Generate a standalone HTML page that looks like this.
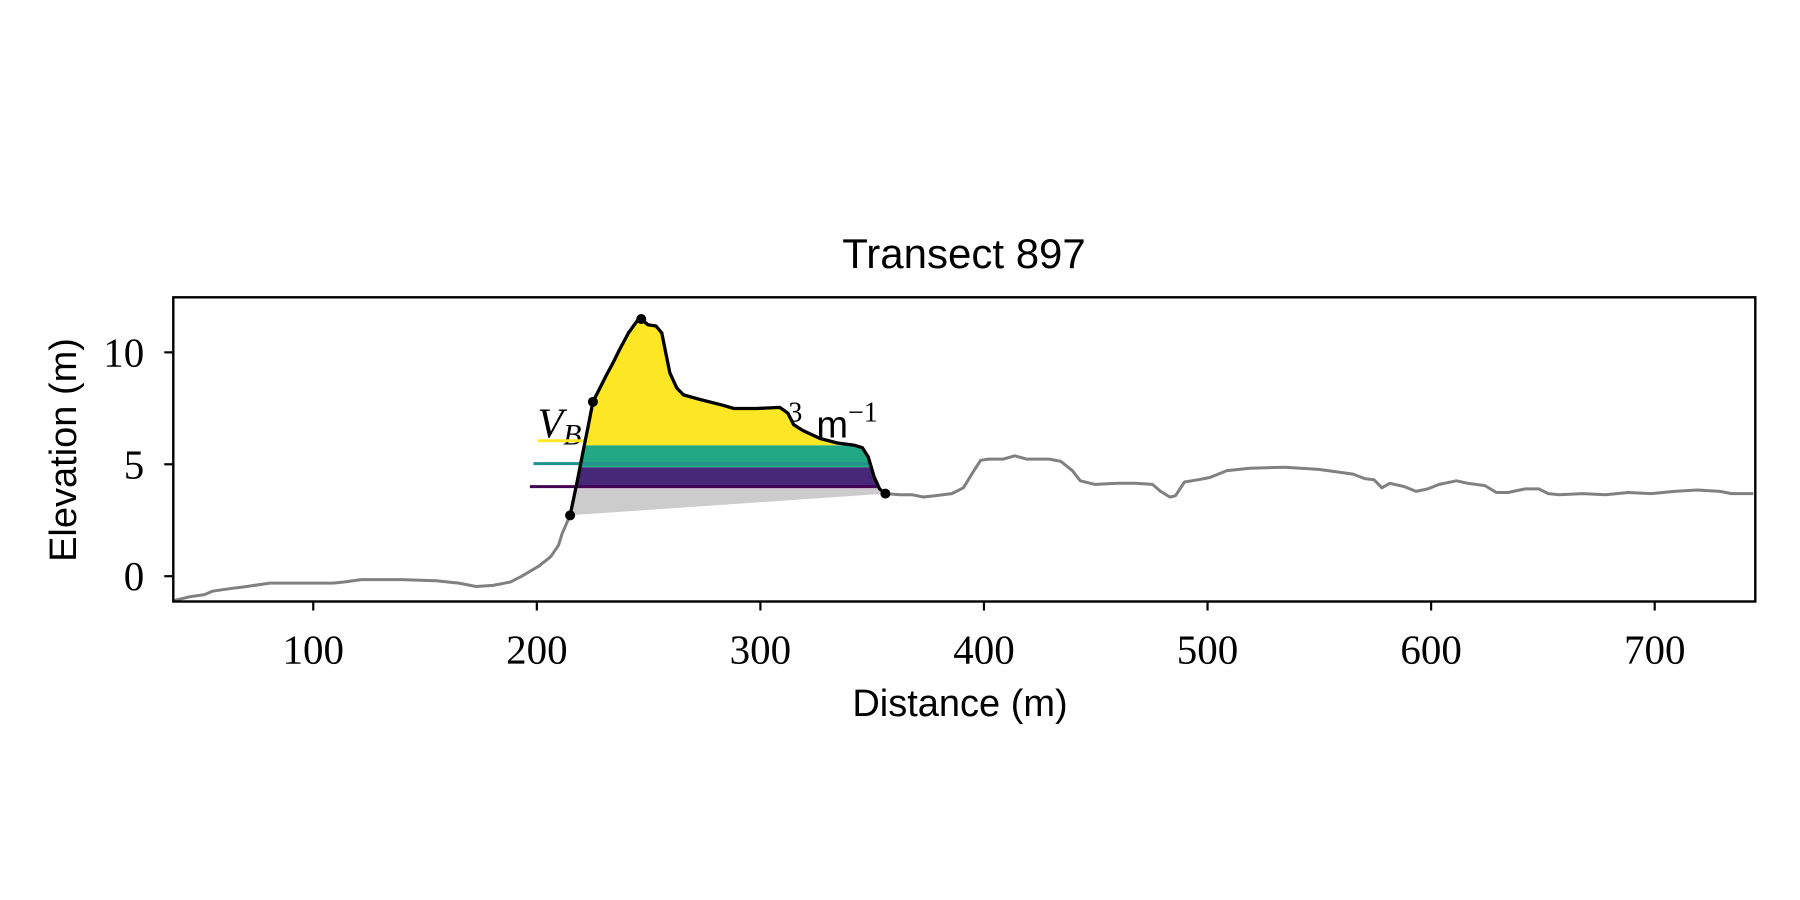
<!DOCTYPE html>
<html><head><meta charset="utf-8"><style>
html,body{margin:0;padding:0;background:#fff;}
svg{display:block;}
</style></head><body>
<svg id="chart" width="1800" height="900" viewBox="0 0 1800 900" xmlns="http://www.w3.org/2000/svg">
<text x="964" y="268" text-anchor="middle" font-family="Liberation Sans, sans-serif" font-size="42">Transect 897</text>
<text x="960" y="716" text-anchor="middle" font-family="Liberation Sans, sans-serif" font-size="38">Distance (m)</text>
<text transform="translate(76,450) rotate(-90)" text-anchor="middle" font-family="Liberation Sans, sans-serif" font-size="38">Elevation (m)</text>
<g id="plot"></g>
</svg>
<script>
const xTicks=[100,200,300,400,500,600,700];
const yTicks=[0,5,10];
const bgDist=[38,44.6,51.3,54.9,62.6,70.3,80.5,93.3,108.7,113.8,121.5,139.5,154.9,165.1,172.8,180.5,188.2,193.3,201,206.2,209.7,211.3,214.9];
const bgElev=[-1.08,-0.92,-0.82,-0.67,-0.56,-0.46,-0.31,-0.31,-0.31,-0.26,-0.15,-0.15,-0.2,-0.31,-0.46,-0.41,-0.26,0,0.46,0.87,1.38,1.9,2.72];
const duneDist=[214.9,218,220.5,223.1,225.1,227.7,230.8,234.4,236.9,241,245.1,246.7,249.7,253.3,255.9,257.4,259.5,262.6,265.6,272.8,283.1,288.2,298.5,308.7,312.3,314.9,319,326.7,334.4,342.1,345.6,348.2,350.8,353.3,355.9];
const duneElev=[2.72,4.21,5.49,6.77,7.79,8.31,8.92,9.59,10.1,10.87,11.44,11.49,11.23,11.18,10.87,10.1,9.08,8.41,8.1,7.9,7.64,7.49,7.49,7.54,7.28,6.77,6.51,6.15,5.95,5.85,5.74,5.33,4.46,3.9,3.69];
const backDist=[355.9,362.6,367.7,372.8,378,385.6,390.8,394.9,398.5,402.1,408.7,413.8,419,429.2,434.4,439.5,443.1,449.7,460,467.7,475.4,479,483.1,485.6,489.7,495.9,501,508.7,519,534.4,549.7,565.1,570.3,574.4,578,581.5,588.2,593.3,598.5,603.6,611.3,616.4,624.1,629.2,634.4,642.1,648.2,652.3,657.4,667.7,677.9,688.2,698.5,708.7,719,729.2,734.4,744.1];
const backElev=[3.69,3.64,3.64,3.54,3.59,3.69,3.95,4.62,5.18,5.23,5.23,5.38,5.23,5.23,5.13,4.72,4.26,4.1,4.15,4.15,4.1,3.79,3.54,3.59,4.21,4.31,4.41,4.72,4.82,4.87,4.77,4.56,4.36,4.31,3.95,4.15,4,3.79,3.9,4.1,4.26,4.15,4.05,3.74,3.74,3.9,3.9,3.69,3.64,3.69,3.64,3.74,3.69,3.79,3.85,3.79,3.69,3.69];
const levels=[4.0,4.87,5.85];
const levelLegend=[4.0,5.03,6.05];
const legendStart=[196.9,198.5,200.5];
const markerDist=[214.9,225.1,246.7,355.9];
const markerElev=[2.72,7.79,11.49,3.69];
const xMin=37.4,xMax=745,yMin=-1.13,yMax=12.46;
const L=173.3,R=1755.3,T=297.3,B=601.5;
const sx=v=>L+(v-xMin)/(xMax-xMin)*(R-L);
const sy=v=>B-(v-yMin)/(yMax-yMin)*(B-T);
const NS='http://www.w3.org/2000/svg';
const g=document.getElementById('plot');
function mk(tag,attrs,parent){const e=document.createElementNS(NS,tag);for(const k in attrs)e.setAttribute(k,attrs[k]);(parent||g).appendChild(e);return e;}
function pts(xs,ys){return xs.map((x,i)=>sx(x).toFixed(1)+','+sy(ys[i]).toFixed(1)).join(' ');}
const defs=mk('defs',{});
const cp=mk('clipPath',{id:'axclip'},defs);
mk('rect',{x:L,y:T,width:R-L,height:B-T},cp);
const cp2=mk('clipPath',{id:'duneclip'},defs);
mk('polygon',{points:pts(duneDist,duneElev)},cp2);
const pg=mk('g',{'clip-path':'url(#axclip)'});
const t1=mk('text',{x:sx(200.3),y:sy(6.2),'font-family':'Liberation Serif, serif','font-style':'italic','font-size':'42'},pg);


t1.textContent='V';
const t1b=mk('tspan',{'font-size':'30',dy:'7'},t1);t1b.textContent='B';
const t2=mk('text',{x:sx(312.5),y:sy(6.2),'font-family':'Liberation Sans, sans-serif','font-size':'38'},pg);


const s1=mk('tspan',{'font-family':'Liberation Serif, serif','font-size':'28',dy:'-16'},t2);s1.textContent='3';
const s2=mk('tspan',{dy:'16',dx:'14'},t2);s2.textContent='m';
const s3=mk('tspan',{'font-family':'Liberation Serif, serif','font-size':'28',dy:'-16'},t2);s3.textContent='−1';
const cols=['#440154','#21918c','#fde725'];
const bandCols=['#472777','#22a884','#fde725'];
levelLegend.forEach((lv,i)=>{
 const ln=mk('line',{x1:sx(legendStart[i]),x2:sx(226),y1:sy(lv),y2:sy(lv),stroke:cols[i],'stroke-width':3},pg);
 
 
});
const bg=mk('g',{'clip-path':'url(#duneclip)'},pg);
const gr=mk('rect',{x:sx(200),y:sy(levels[0]),width:sx(360)-sx(200),height:sy(-2)-sy(levels[0]),fill:'#cccccc'},bg);


const tops=[levels[1],levels[2],13];
levels.forEach((lv,i)=>{
 const r=mk('rect',{x:sx(200),y:sy(tops[i]),width:sx(360)-sx(200),height:sy(lv)-sy(tops[i]),fill:bandCols[i]},bg);
 
 
});
levelLegend.slice(0,2).forEach((lv,i)=>{
 const ln=mk('line',{x1:sx(200),x2:sx(360),y1:sy(lv),y2:sy(lv),stroke:cols[i],'stroke-width':3},bg);
 
 
});
const p1=mk('polyline',{points:pts(bgDist,bgElev),fill:'none',stroke:'#808080','stroke-width':3,'stroke-linejoin':'round'},pg);


const p3=mk('polyline',{points:pts(backDist,backElev),fill:'none',stroke:'#808080','stroke-width':3,'stroke-linejoin':'round'},pg);


const p2=mk('polyline',{points:pts(duneDist,duneElev),fill:'none',stroke:'#000','stroke-width':3.3,'stroke-linejoin':'round'},pg);


markerDist.forEach((d,i)=>{
 const c=mk('circle',{cx:sx(d),cy:sy(markerElev[i]),r:5,fill:'#000'},pg);
 
 
});
const fr=mk('rect',{x:L,y:T,width:R-L,height:B-T,fill:'none',stroke:'#000','stroke-width':2.4});


xTicks.forEach(v=>{
 const tk=mk('line',{x1:sx(v),x2:sx(v),y1:B,y2:B+9,stroke:'#000','stroke-width':2.2});
 
 
 const tl=mk('text',{x:sx(v),y:B+62,'text-anchor':'middle','font-family':'Liberation Serif, serif','font-size':'41'});
 
 
 tl.textContent=v;
});
yTicks.forEach(v=>{
 const tk=mk('line',{x1:L-9,x2:L,y1:sy(v),y2:sy(v),stroke:'#000','stroke-width':2.2});
 
 
 const tl=mk('text',{x:L-29,y:sy(v)+14,'text-anchor':'end','font-family':'Liberation Serif, serif','font-size':'41'});
 
 
 tl.textContent=v;
});
</script>
</body></html>
